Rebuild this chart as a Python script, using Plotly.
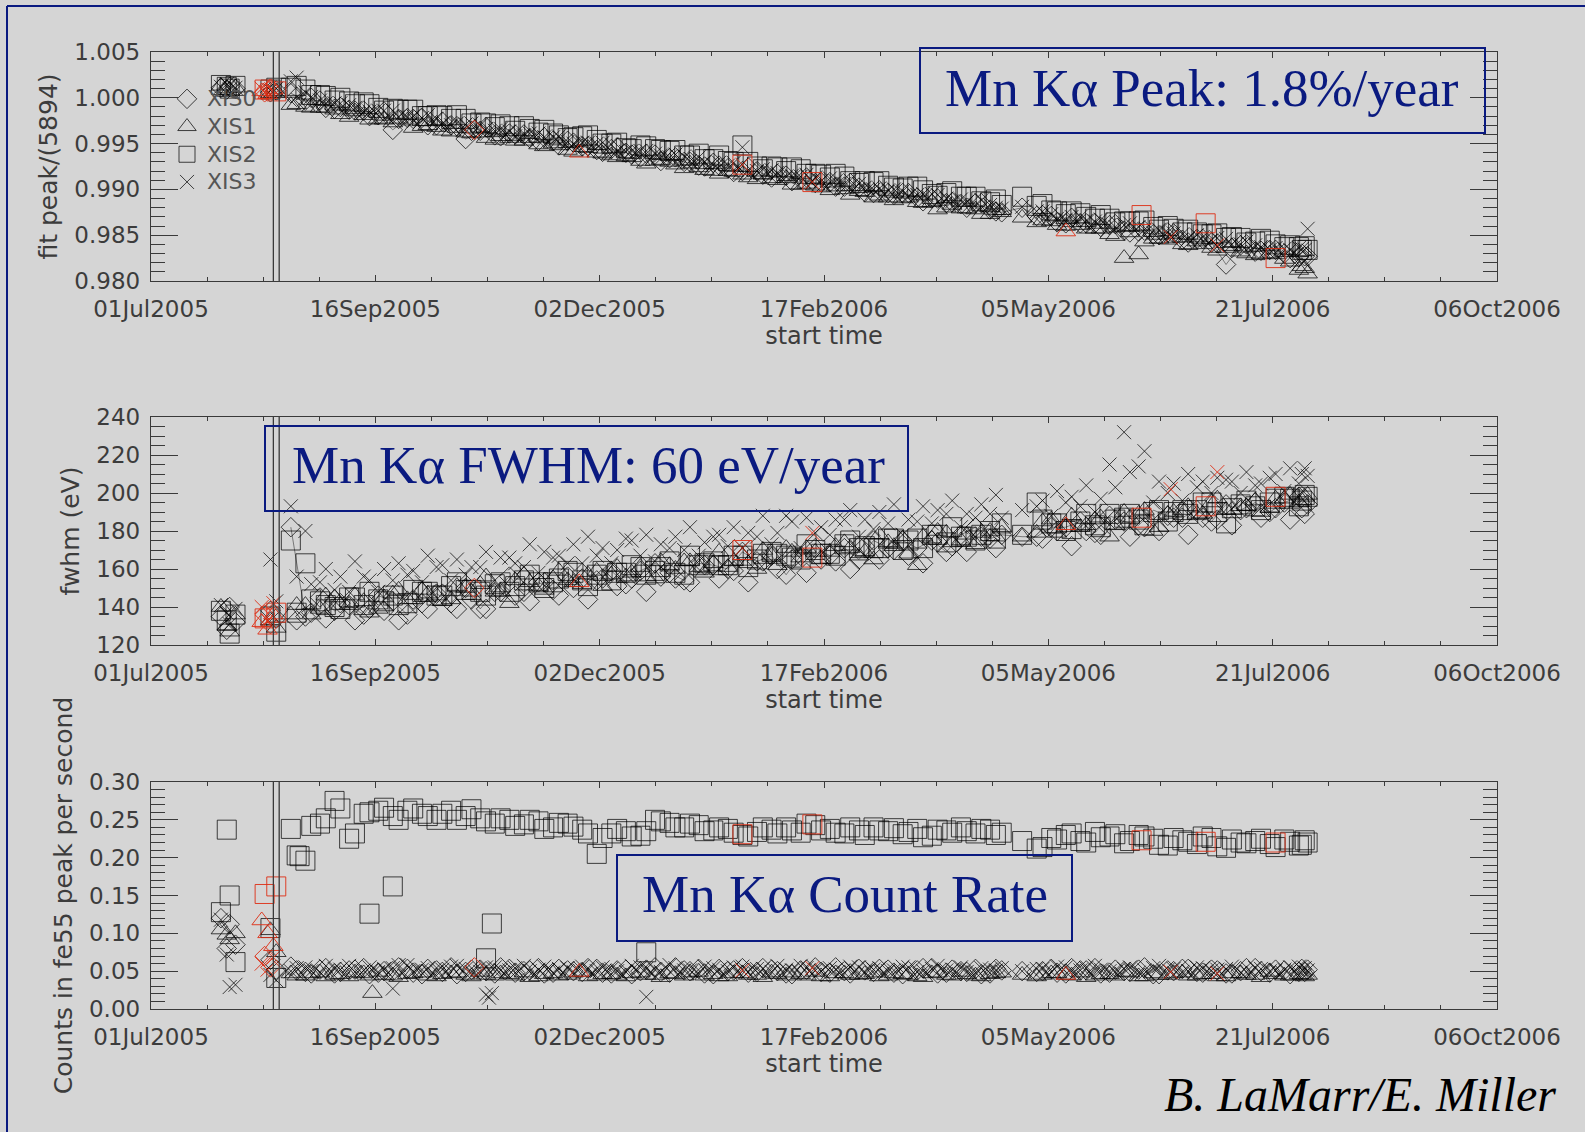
import plotly.graph_objects as go

# ---------------- data ----------------
# observation dates, set A
dates = [
    "2005-08-18", "2005-08-23", "2005-08-28", "2005-09-02", "2005-09-07", "2005-09-12", "2005-09-17", "2005-09-22", "2005-09-27", "2005-10-02",
    "2005-10-07", "2005-10-12", "2005-10-17", "2005-10-22", "2005-10-27", "2005-11-01", "2005-11-06", "2005-11-11", "2005-11-16", "2005-11-21",
    "2005-11-26", "2005-12-01", "2005-12-06", "2005-12-11", "2005-12-16", "2005-12-21", "2005-12-26", "2005-12-31", "2006-01-05", "2006-01-10",
    "2006-01-15", "2006-01-20", "2006-01-25", "2006-01-30", "2006-02-04", "2006-02-09", "2006-02-14", "2006-02-19", "2006-02-24", "2006-03-01",
    "2006-03-06", "2006-03-11", "2006-03-16", "2006-03-21", "2006-03-26", "2006-03-31", "2006-04-05", "2006-04-10", "2006-04-15", "2006-04-19",
    "2006-04-26", "2006-05-01", "2006-05-06", "2006-05-11", "2006-05-16", "2006-05-21", "2006-05-26", "2006-05-31", "2006-06-05", "2006-06-10",
    "2006-06-15", "2006-06-20", "2006-06-25", "2006-06-30", "2006-07-05", "2006-07-10", "2006-07-15", "2006-07-20", "2006-07-25", "2006-07-30",
    "2006-08-02",
]
# observation dates, set B (interleaved)
dates_b = [
    "2005-08-20", "2005-08-25", "2005-08-30", "2005-09-04", "2005-09-09", "2005-09-14", "2005-09-19", "2005-09-24", "2005-09-29", "2005-10-04",
    "2005-10-09", "2005-10-14", "2005-10-19", "2005-10-24", "2005-10-29", "2005-11-03", "2005-11-08", "2005-11-13", "2005-11-18", "2005-11-23",
    "2005-11-28", "2005-12-03", "2005-12-08", "2005-12-13", "2005-12-18", "2005-12-23", "2005-12-28", "2006-01-02", "2006-01-07", "2006-01-12",
    "2006-01-17", "2006-01-22", "2006-01-27", "2006-02-01", "2006-02-06", "2006-02-11", "2006-02-16", "2006-02-21", "2006-02-26", "2006-03-03",
    "2006-03-08", "2006-03-13", "2006-03-18", "2006-03-23", "2006-03-28", "2006-04-02", "2006-04-07", "2006-04-12", "2006-04-17", "2006-05-03",
    "2006-05-08", "2006-05-13", "2006-05-18", "2006-05-23", "2006-05-28", "2006-06-02", "2006-06-07", "2006-06-12", "2006-06-17", "2006-06-22",
    "2006-06-27", "2006-07-02", "2006-07-07", "2006-07-12", "2006-07-17", "2006-07-22", "2006-07-27", "2006-07-31", "2006-08-01",
]

# --- panel 1: fit peak / 5894 ---
peak_xis0 = [
    1.0005, 0.9997, 0.9997, 0.9988, 0.9987, 0.9986, 0.9981, 0.9965, 0.9978, 0.9978,
    0.9970, 0.9970, 0.9955, 0.9964, 0.9959, 0.9961, 0.9960, 0.9953, 0.9953, 0.9953,
    0.9947, 0.9943, 0.9944, 0.9940, 0.9935, 0.9938, 0.9934, 0.9930, 0.9926, 0.9929,
    0.9923, 0.9920, 0.9920, 0.9913, 0.9915, 0.9911, 0.9907, 0.9908, 0.9903, 0.9902,
    0.9896, 0.9896, 0.9896, 0.9891, 0.9890, 0.9885, 0.9884, 0.9885, 0.9878, 0.9875,
    0.9880, 0.9871, 0.9871, 0.9863, 0.9863, 0.9863, 0.9861, 0.9855, 0.9854, 0.9851,
    0.9853, 0.9845, 0.9846, 0.9842, 0.9818, 0.9839, 0.9832, 0.9834, 0.9830, 0.9826,
    0.9827,
]
peak_xis0_b = [
    1.0001, 1.0000, 0.9989, 0.9990, 0.9986, 0.9980, 0.9985, 0.9977, 0.9977, 0.9970,
    0.9974, 0.9969, 0.9964, 0.9968, 0.9958, 0.9960, 0.9956, 0.9957, 0.9948, 0.9951,
    0.9947, 0.9941, 0.9946, 0.9938, 0.9939, 0.9931, 0.9935, 0.9930, 0.9925, 0.9926,
    0.9919, 0.9924, 0.9916, 0.9917, 0.9909, 0.9913, 0.9908, 0.9903, 0.9907, 0.9897,
    0.9899, 0.9894, 0.9896, 0.9887, 0.9890, 0.9886, 0.9880, 0.9885, 0.9876, 0.9872,
    0.9864, 0.9869, 0.9863, 0.9859, 0.9862, 0.9853, 0.9855, 0.9850, 0.9852, 0.9842,
    0.9846, 0.9841, 0.9836, 0.9840, 0.9833, 0.9834, 0.9825, 0.9830, 0.9827,
]
peak_xis1 = [
    0.9992, 0.9990, 0.9989, 0.9987, 0.9979, 0.9981, 0.9977, 0.9973, 0.9975, 0.9969,
    0.9968, 0.9963, 0.9962, 0.9962, 0.9954, 0.9956, 0.9953, 0.9949, 0.9950, 0.9943,
    0.9946, 0.9940, 0.9937, 0.9936, 0.9931, 0.9931, 0.9930, 0.9923, 0.9924, 0.9920,
    0.9920, 0.9916, 0.9911, 0.9912, 0.9912, 0.9905, 0.9904, 0.9899, 0.9900, 0.9898,
    0.9891, 0.9891, 0.9890, 0.9886, 0.9886, 0.9880, 0.9879, 0.9878, 0.9873, 0.9875,
    0.9869, 0.9864, 0.9865, 0.9860, 0.9861, 0.9857, 0.9851, 0.9825, 0.9829, 0.9846,
    0.9845, 0.9840, 0.9843, 0.9836, 0.9836, 0.9832, 0.9828, 0.9830, 0.9824, 0.9812,
    0.9808,
]
peak_xis1_b = [
    0.9993, 0.9989, 0.9989, 0.9982, 0.9985, 0.9976, 0.9976, 0.9977, 0.9967, 0.9970,
    0.9964, 0.9967, 0.9961, 0.9956, 0.9958, 0.9953, 0.9956, 0.9947, 0.9948, 0.9941,
    0.9945, 0.9939, 0.9935, 0.9935, 0.9928, 0.9932, 0.9927, 0.9928, 0.9921, 0.9917,
    0.9919, 0.9913, 0.9916, 0.9910, 0.9905, 0.9906, 0.9902, 0.9903, 0.9894, 0.9897,
    0.9893, 0.9888, 0.9891, 0.9885, 0.9878, 0.9883, 0.9879, 0.9873, 0.9877, 0.9866,
    0.9861, 0.9864, 0.9857, 0.9857, 0.9849, 0.9853, 0.9843, 0.9846, 0.9847, 0.9839,
    0.9840, 0.9833, 0.9838, 0.9830, 0.9829, 0.9829, 0.9821, 0.9816, 0.9814,
]
peak_xis2 = [
    1.0011, 1.0009, 1.0003, 0.9997, 0.9996, 0.9995, 0.9989, 0.9988, 0.9987, 0.9980,
    0.9981, 0.9977, 0.9977, 0.9973, 0.9968, 0.9969, 0.9969, 0.9962, 0.9961, 0.9956,
    0.9958, 0.9954, 0.9950, 0.9945, 0.9948, 0.9944, 0.9942, 0.9937, 0.9939, 0.9933,
    0.9931, 0.9948, 0.9925, 0.9925, 0.9920, 0.9922, 0.9917, 0.9913, 0.9914, 0.9907,
    0.9908, 0.9904, 0.9901, 0.9903, 0.9895, 0.9896, 0.9892, 0.9892, 0.9886, 0.9883,
    0.9892, 0.9882, 0.9877, 0.9873, 0.9874, 0.9868, 0.9868, 0.9865, 0.9865, 0.9859,
    0.9860, 0.9853, 0.9853, 0.9851, 0.9847, 0.9847, 0.9843, 0.9844, 0.9837, 0.9837,
    0.9834,
]
peak_xis2_b = [
    1.0013, 1.0003, 1.0002, 1.0000, 0.9993, 0.9993, 0.9986, 0.9987, 0.9987, 0.9980,
    0.9980, 0.9981, 0.9972, 0.9972, 0.9971, 0.9964, 0.9966, 0.9965, 0.9959, 0.9957,
    0.9959, 0.9950, 0.9951, 0.9944, 0.9947, 0.9943, 0.9943, 0.9937, 0.9933, 0.9937,
    0.9930, 0.9930, 0.9922, 0.9924, 0.9924, 0.9917, 0.9916, 0.9917, 0.9909, 0.9909,
    0.9909, 0.9902, 0.9903, 0.9899, 0.9893, 0.9898, 0.9892, 0.9887, 0.9889, 0.9884,
    0.9876, 0.9876, 0.9870, 0.9872, 0.9864, 0.9865, 0.9866, 0.9856, 0.9857, 0.9856,
    0.9851, 0.9852, 0.9848, 0.9842, 0.9846, 0.9840, 0.9839, 0.9834, 0.9838,
]
peak_xis3 = [
    1.0018, 1.0006, 0.9997, 0.9994, 0.9992, 0.9985, 0.9986, 0.9986, 0.9979, 0.9978,
    0.9977, 0.9970, 0.9971, 0.9970, 0.9964, 0.9963, 0.9959, 0.9961, 0.9957, 0.9952,
    0.9951, 0.9950, 0.9949, 0.9941, 0.9942, 0.9939, 0.9935, 0.9936, 0.9935, 0.9927,
    0.9926, 0.9946, 0.9920, 0.9921, 0.9914, 0.9914, 0.9913, 0.9912, 0.9906, 0.9906,
    0.9900, 0.9899, 0.9898, 0.9894, 0.9895, 0.9890, 0.9889, 0.9883, 0.9883, 0.9879,
    0.9881, 0.9876, 0.9873, 0.9867, 0.9870, 0.9865, 0.9861, 0.9861, 0.9859, 0.9852,
    0.9853, 0.9851, 0.9850, 0.9844, 0.9846, 0.9840, 0.9839, 0.9834, 0.9835, 0.9836,
    0.9857,
]
peak_xis3_b = [
    1.0022, 1.0001, 0.9994, 0.9994, 0.9989, 0.9985, 0.9986, 0.9979, 0.9980, 0.9981,
    0.9972, 0.9972, 0.9972, 0.9966, 0.9966, 0.9958, 0.9961, 0.9957, 0.9958, 0.9950,
    0.9951, 0.9951, 0.9942, 0.9942, 0.9942, 0.9937, 0.9938, 0.9931, 0.9930, 0.9929,
    0.9929, 0.9920, 0.9922, 0.9918, 0.9915, 0.9916, 0.9909, 0.9909, 0.9910, 0.9902,
    0.9901, 0.9900, 0.9893, 0.9895, 0.9894, 0.9887, 0.9886, 0.9888, 0.9880, 0.9876,
    0.9868, 0.9870, 0.9866, 0.9867, 0.9859, 0.9863, 0.9856, 0.9856, 0.9852, 0.9846,
    0.9848, 0.9847, 0.9840, 0.9843, 0.9837, 0.9836, 0.9834, 0.9835, 0.9834,
]

# --- panel 2: FWHM (eV) ---
fwhm_xis0 = [
    182, 135, 145, 138, 141, 136, 146, 143, 136, 142,
    147, 142, 150, 139, 148, 156, 148, 153, 149, 156,
    155, 154, 159, 152, 159, 163, 158, 154, 163, 162,
    160, 169, 164, 167, 157, 167, 171, 167, 171, 165,
    175, 171, 175, 171, 175, 169, 178, 182, 176, 178,
    177, 177, 182, 182, 185, 179, 188, 185, 183, 191,
    188, 187, 191, 185, 194, 191, 195, 190, 195, 198,
    194,
]
fwhm_xis0_b = [
    133, 137, 134, 142, 133, 139, 138, 133, 144, 139,
    147, 139, 144, 139, 148, 146, 143, 153, 146, 150,
    144, 155, 151, 155, 148, 156, 155, 153, 162, 155,
    159, 153, 164, 160, 165, 158, 165, 164, 160, 172,
    165, 170, 167, 163, 174, 172, 169, 177, 171, 176,
    180, 172, 180, 178, 186, 177, 182, 180, 187, 178,
    187, 186, 183, 192, 187, 192, 186, 192, 189,
]
fwhm_xis1 = [
    136, 141, 139, 145, 141, 143, 139, 147, 144, 149,
    146, 144, 150, 152, 148, 142, 157, 151, 155, 154,
    152, 159, 157, 156, 161, 155, 162, 164, 161, 163,
    161, 167, 160, 167, 171, 166, 169, 169, 174, 167,
    165, 174, 176, 162, 176, 179, 175, 173, 180, 182,
    177, 179, 186, 182, 182, 186, 177, 190, 189, 180,
    189, 191, 189, 195, 191, 193, 196, 192, 197, 195,
    199,
]
fwhm_xis1_b = [
    141, 136, 146, 141, 146, 137, 145, 149, 144, 147,
    143, 151, 148, 156, 148, 154, 153, 149, 159, 153,
    157, 151, 161, 158, 156, 164, 160, 164, 158, 169,
    164, 163, 170, 162, 169, 171, 165, 172, 171, 169,
    178, 172, 168, 177, 180, 174, 178, 179, 177, 185,
    179, 188, 183, 187, 183, 187, 191, 182, 190, 193,
    189, 197, 191, 193, 190, 197, 199, 196, 198,
]
fwhm_xis2 = [
    175, 163, 143, 140, 145, 141, 144, 146, 142, 148,
    146, 151, 149, 148, 152, 148, 154, 153, 153, 159,
    154, 157, 154, 158, 161, 159, 164, 157, 162, 164,
    162, 167, 165, 169, 167, 165, 170, 168, 173, 171,
    171, 176, 170, 176, 178, 174, 177, 175, 180, 184,
    178, 195, 184, 180, 185, 183, 189, 187, 186, 190,
    185, 191, 191, 195, 184, 194, 193, 195, 198, 193,
    198,
]
fwhm_xis2_b = [
    137, 144, 141, 139, 145, 148, 143, 141, 149, 148,
    146, 153, 149, 146, 153, 151, 157, 150, 155, 158,
    151, 159, 158, 162, 157, 161, 158, 167, 163, 162,
    167, 161, 168, 168, 166, 173, 168, 167, 175, 172,
    171, 176, 175, 171, 178, 182, 177, 178, 176, 186,
    184, 181, 189, 182, 186, 189, 183, 191, 190, 189,
    195, 190, 192, 196, 191, 197, 197, 196, 199,
]
fwhm_xis3 = [
    193, 180, 153, 149, 148, 156, 148, 154, 157, 153,
    161, 154, 157, 161, 154, 166, 161, 158, 166, 163,
    163, 167, 163, 176, 167, 164, 171, 170, 167, 177,
    172, 171, 177, 173, 188, 171, 179, 178, 186, 177,
    181, 184, 178, 185, 184, 189, 182, 187, 189, 187,
    191, 193, 188, 195, 193, 190, 215, 232, 214, 195,
    200, 196, 203, 200, 207, 200, 204, 208, 201, 205,
    209,
]
fwhm_xis3_b = [
    156, 152, 160, 156, 164, 154, 160, 163, 159, 167,
    162, 165, 161, 169, 166, 163, 173, 169, 167, 173,
    177, 171, 170, 175, 178, 173, 177, 182, 174, 178,
    182, 179, 188, 179, 185, 187, 182, 186, 191, 186,
    190, 194, 186, 193, 191, 196, 189, 194, 199, 196,
    201, 198, 204, 197, 203, 211, 222, 206, 205, 210,
    206, 208, 206, 211, 205, 210, 213, 210, 213,
]

# --- panel 3: counts in fe55 peak per second ---
rate_xis0 = [
    0.056, 0.049, 0.052, 0.047, 0.051, 0.054, 0.048, 0.050, 0.053, 0.046,
    0.051, 0.055, 0.049, 0.052, 0.047, 0.053, 0.050, 0.054, 0.048, 0.051,
    0.049, 0.053, 0.047, 0.052, 0.050, 0.055, 0.048, 0.051, 0.053, 0.046,
    0.050, 0.054, 0.049, 0.052, 0.047, 0.051, 0.055, 0.048, 0.050, 0.053,
    0.049, 0.052, 0.046, 0.051, 0.054, 0.048, 0.050, 0.053, 0.047, 0.051,
    0.050, 0.049, 0.053, 0.047, 0.051, 0.054, 0.048, 0.050, 0.052, 0.046,
    0.051, 0.053, 0.049, 0.052, 0.047, 0.050, 0.054, 0.048, 0.051, 0.049,
    0.052,
]
rate_xis0_b = [
    0.051, 0.047, 0.054, 0.049, 0.052, 0.046, 0.050, 0.055, 0.048, 0.053,
    0.049, 0.046, 0.052, 0.050, 0.055, 0.048, 0.051, 0.047, 0.053, 0.050,
    0.054, 0.048, 0.051, 0.046, 0.052, 0.049, 0.055, 0.050, 0.047, 0.053,
    0.051, 0.048, 0.054, 0.050, 0.046, 0.052, 0.049, 0.055, 0.047, 0.051,
    0.053, 0.048, 0.050, 0.054, 0.047, 0.052, 0.049, 0.046, 0.053, 0.050,
    0.048, 0.054, 0.051, 0.047, 0.052, 0.049, 0.055, 0.046, 0.050, 0.053,
    0.048, 0.051, 0.047, 0.054, 0.050, 0.052, 0.046, 0.053, 0.049,
]
rate_xis1 = [
    0.047, 0.044, 0.048, 0.045, 0.043, 0.047, 0.049, 0.044, 0.046, 0.048,
    0.043, 0.047, 0.045, 0.049, 0.044, 0.046, 0.048, 0.043, 0.047, 0.045,
    0.049, 0.044, 0.046, 0.043, 0.048, 0.045, 0.047, 0.044, 0.049, 0.046,
    0.043, 0.047, 0.045, 0.048, 0.044, 0.046, 0.049, 0.043, 0.047, 0.045,
    0.048, 0.044, 0.046, 0.043, 0.047, 0.045, 0.049, 0.044, 0.046, 0.048,
    0.045, 0.043, 0.047, 0.045, 0.048, 0.044, 0.046, 0.049, 0.043, 0.047,
    0.045, 0.048, 0.044, 0.046, 0.043, 0.047, 0.045, 0.049, 0.044, 0.046,
    0.045,
]
rate_xis1_b = [
    0.044, 0.047, 0.043, 0.046, 0.048, 0.044, 0.045, 0.042, 0.047, 0.044,
    0.046, 0.048, 0.043, 0.045, 0.047, 0.044, 0.042, 0.046, 0.044, 0.048,
    0.043, 0.046, 0.044, 0.047, 0.045, 0.042, 0.046, 0.048, 0.044, 0.043,
    0.047, 0.045, 0.042, 0.046, 0.048, 0.044, 0.043, 0.047, 0.045, 0.046,
    0.043, 0.047, 0.045, 0.042, 0.048, 0.044, 0.046, 0.043, 0.047, 0.045,
    0.047, 0.044, 0.042, 0.046, 0.044, 0.048, 0.043, 0.045, 0.047, 0.044,
    0.046, 0.043, 0.047, 0.045, 0.042, 0.046, 0.044, 0.045, 0.043,
]
rate_xis2 = [
    0.238, 0.196, 0.245, 0.275, 0.225, 0.258, 0.262, 0.255, 0.262, 0.258,
    0.250, 0.262, 0.255, 0.252, 0.245, 0.250, 0.244, 0.248, 0.240, 0.245,
    0.237, 0.205, 0.232, 0.235, 0.229, 0.250, 0.246, 0.240, 0.243, 0.236,
    0.238, 0.230, 0.234, 0.237, 0.240, 0.233, 0.243, 0.238, 0.232, 0.236,
    0.240, 0.235, 0.231, 0.238, 0.229, 0.236, 0.240, 0.232, 0.237, 0.233,
    0.222, 0.212, 0.226, 0.230, 0.222, 0.234, 0.228, 0.219, 0.230, 0.225,
    0.216, 0.223, 0.218, 0.226, 0.213, 0.220, 0.222, 0.218, 0.224, 0.216,
    0.220,
]
rate_xis2_b = [
    0.203, 0.242, 0.252, 0.265, 0.232, 0.260, 0.266, 0.250, 0.265, 0.255,
    0.258, 0.250, 0.264, 0.248, 0.252, 0.242, 0.250, 0.238, 0.246, 0.241,
    0.232, 0.226, 0.238, 0.228, 0.235, 0.248, 0.240, 0.245, 0.235, 0.240,
    0.233, 0.228, 0.240, 0.232, 0.236, 0.245, 0.236, 0.233, 0.240, 0.230,
    0.236, 0.239, 0.234, 0.227, 0.237, 0.233, 0.235, 0.238, 0.230, 0.214,
    0.224, 0.232, 0.220, 0.227, 0.231, 0.222, 0.228, 0.217, 0.226, 0.221,
    0.228, 0.215, 0.224, 0.219, 0.225, 0.214, 0.221, 0.217, 0.223,
]
rate_xis3 = [
    0.050, 0.055, 0.048, 0.053, 0.057, 0.051, 0.049, 0.054, 0.058, 0.052,
    0.050, 0.056, 0.053, 0.049, 0.055, 0.051, 0.057, 0.052, 0.048, 0.054,
    0.056, 0.050, 0.053, 0.049, 0.055, 0.052, 0.058, 0.051, 0.047, 0.054,
    0.050, 0.056, 0.053, 0.049, 0.052, 0.057, 0.051, 0.054, 0.048, 0.055,
    0.052, 0.050, 0.056, 0.049, 0.053, 0.051, 0.055, 0.048, 0.052, 0.054,
    0.050, 0.053, 0.049, 0.055, 0.051, 0.057, 0.050, 0.053, 0.048, 0.054,
    0.052, 0.049, 0.055, 0.051, 0.053, 0.048, 0.054, 0.050, 0.052, 0.056,
    0.051,
]
rate_xis3_b = [
    0.054, 0.050, 0.057, 0.052, 0.049, 0.055, 0.053, 0.058, 0.050, 0.054,
    0.052, 0.057, 0.049, 0.055, 0.051, 0.054, 0.050, 0.056, 0.053, 0.049,
    0.052, 0.055, 0.050, 0.057, 0.053, 0.049, 0.054, 0.051, 0.056, 0.052,
    0.055, 0.049, 0.053, 0.057, 0.051, 0.054, 0.050, 0.052, 0.056, 0.049,
    0.054, 0.051, 0.055, 0.050, 0.057, 0.052, 0.049, 0.054, 0.051, 0.053,
    0.056, 0.050, 0.054, 0.052, 0.049, 0.055, 0.051, 0.057, 0.053, 0.050,
    0.054, 0.052, 0.056, 0.049, 0.053, 0.051, 0.055, 0.052, 0.054,
]

# early calibration runs (before the main sequence)
early_dates = ["2005-07-25", "2005-07-27", "2005-07-28", "2005-07-30", "2005-08-11", "2005-08-13"]
early_peak = {"XIS0": [1.0011, 1.0009, 1.0012, 1.0010, 1.0006, 1.0008],
              "XIS1": [1.0013, 1.0010, 1.0008, 1.0011, 1.0005, 1.0007],
              "XIS2": [1.0014, 1.0012, 1.0010, 1.0013, 1.0009, 1.0011],
              "XIS3": [1.0012, 1.0015, 1.0009, 1.0011, 1.0008, 1.0010]}
early_fwhm = {"XIS0": [135, 128, 140, 132, 138, 134],
              "XIS1": [140, 130, 127, 136, 133, 129],
              "XIS2": [138, 133, 126, 136, 135, 127],
              "XIS3": [141, 137, 131, 139, 165, 143]}
early_rate = {"XIS0": [0.120, 0.080, 0.112, 0.085, 0.065, 0.052],
              "XIS1": [0.105, 0.098, 0.092, 0.100, 0.104, 0.075],
              "XIS2": [0.128, 0.237, 0.150, 0.062, 0.107, 0.041],
              "XIS3": [0.118, 0.072, 0.029, 0.032, 0.045, 0.038]}

# points drawn in red
red_dates = {"XIS0": ["2005-08-09", "2005-08-11", "2005-10-20"],
             "XIS1": ["2005-08-08", "2005-08-10", "2005-08-12", "2005-11-25", "2006-05-11"],
             "XIS2": ["2005-08-09", "2005-08-13", "2006-01-20", "2006-02-13", "2006-06-06", "2006-06-28", "2006-07-22"],
             "XIS3": ["2005-08-08", "2005-08-10", "2005-08-12", "2006-01-20", "2006-02-13", "2006-06-16", "2006-07-02"]}
red_peak = {"XIS0": [1.0006, 1.0010, 0.9965],
            "XIS1": [1.0007, 1.0004, 1.0009, 0.9940, 0.9854],
            "XIS2": [1.0009, 1.0007, 0.9927, 0.9908, 0.9872, 0.9863, 0.9825],
            "XIS3": [1.0010, 1.0006, 1.0008, 0.9927, 0.9908, 0.9848, 0.9839]}
red_fwhm = {"XIS0": [136, 131, 150],
            "XIS1": [132, 128, 136, 153, 183],
            "XIS2": [134, 137, 170, 166, 187, 193, 198],
            "XIS3": [140, 133, 142, 171, 179, 202, 211]}
red_rate = {"XIS0": [0.070, 0.055, 0.055],
            "XIS1": [0.117, 0.100, 0.083, 0.049, 0.045],
            "XIS2": [0.152, 0.162, 0.231, 0.244, 0.223, 0.221, 0.220],
            "XIS3": [0.060, 0.052, 0.068, 0.051, 0.054, 0.049, 0.047]}

# isolated outliers in the count-rate panel
rate_extra_dates = {"XIS1": ["2005-09-15"],
                    "XIS2": ["2005-08-21", "2005-09-14", "2005-09-22", "2005-10-24", "2005-10-26", "2005-12-18"],
                    "XIS3": ["2005-09-22", "2005-10-24", "2005-10-25", "2005-10-26", "2005-12-18"]}
rate_extra = {"XIS1": [0.021],
              "XIS2": [0.202, 0.126, 0.162, 0.067, 0.113, 0.075],
              "XIS3": [0.027, 0.019, 0.015, 0.021, 0.016]}

event_dates = ["2005-08-12", "2005-08-14"]
tick_dates = ["2005-07-01", "2005-09-16", "2005-12-02", "2006-02-17", "2006-05-05", "2006-07-21", "2006-10-06"]
sensors = ["XIS0", "XIS1", "XIS2", "XIS3"]

main_peak = {"XIS0": (peak_xis0, peak_xis0_b), "XIS1": (peak_xis1, peak_xis1_b),
             "XIS2": (peak_xis2, peak_xis2_b), "XIS3": (peak_xis3, peak_xis3_b)}
main_fwhm = {"XIS0": (fwhm_xis0, fwhm_xis0_b), "XIS1": (fwhm_xis1, fwhm_xis1_b),
             "XIS2": (fwhm_xis2, fwhm_xis2_b), "XIS3": (fwhm_xis3, fwhm_xis3_b)}
main_rate = {"XIS0": (rate_xis0, rate_xis0_b), "XIS1": (rate_xis1, rate_xis1_b),
             "XIS2": (rate_xis2, rate_xis2_b), "XIS3": (rate_xis3, rate_xis3_b)}
for d in (main_peak, main_fwhm, main_rate):
    for k, (va, vb) in d.items():
        assert len(va) == len(dates), (k, "A", len(va))
        assert len(vb) == len(dates_b), (k, "B", len(vb))

# ---------------- styling ----------------
W, H = 1585, 1132
PL, PR, PT, PB = 151, 1497, 52, 1009
PW, PH = PR - PL, PB - PT


def pxp(x):
    return (x - PL) / PW


def pyp(y):
    return (PB - y) / PH


BG = "#d5d5d5"
AX = "#3a3a3a"
TXT = "#3c3c3c"
NAVY = "#0a1a80"
BLACK = "rgba(0,0,0,0.72)"
RED = "rgba(222,45,20,0.9)"
SYM = {"XIS0": ("diamond-open", 15), "XIS1": ("triangle-up-open", 17),
       "XIS2": ("square-open", 19), "XIS3": ("x-thin", 14)}

fig = go.Figure()


def mk(sensor, color):
    sym, size = SYM[sensor]
    return dict(symbol=sym, size=size, color=color, line=dict(color=color, width=1))


panels = [
    ("x", "y", main_peak, early_peak, red_peak, {}, {}),
    ("x2", "y2", main_fwhm, early_fwhm, red_fwhm, {}, {}),
    ("x3", "y3", main_rate, early_rate, red_rate, rate_extra_dates, rate_extra),
]
for pi, (xa, ya, main, early, red, exd, exv) in enumerate(panels):
    if pi < 2:
        # thin connecting line through the XIS0 sequence
        fig.add_trace(go.Scatter(x=dates, y=main["XIS0"][0], mode="lines", showlegend=False,
                                 line=dict(color="rgba(0,0,0,0.55)", width=0.8),
                                 xaxis=xa, yaxis=ya, hoverinfo="skip"))
    for s in sensors:
        va, vb = main[s]
        xs = early_dates + dates + dates_b + exd.get(s, [])
        ys = early[s] + va + vb + exv.get(s, [])
        fig.add_trace(go.Scatter(x=xs, y=ys, mode="markers",
                                 name="<span style='font-size:22px'>%s</span>" % s, legendgroup=s,
                                 showlegend=(pi == 0), marker=mk(s, BLACK),
                                 xaxis=xa, yaxis=ya, hoverinfo="skip"))
    for s in sensors:
        fig.add_trace(go.Scatter(x=red_dates[s], y=red[s], mode="markers", showlegend=False,
                                 marker=mk(s, RED), xaxis=xa, yaxis=ya, hoverinfo="skip"))

tickfont = dict(family="DejaVu Sans", size=23, color=TXT)
DAY = 86400000

xcommon = dict(type="date", range=[tick_dates[0], tick_dates[-1]], tick0=tick_dates[0], dtick=77 * DAY,
               tickformat="%d%b%Y", ticks="inside", ticklen=6, tickwidth=1.2, tickcolor=AX,
               showline=True, linecolor=AX, linewidth=1.4, mirror="ticks", showgrid=False, zeroline=False,
               tickfont=tickfont, ticklabelstandoff=7,
               minor=dict(tick0=tick_dates[0], dtick=19.25 * DAY, ticks="inside", ticklen=4, tickcolor=AX,
                          showgrid=False),
               title=dict(text="start time", font=dict(tickfont, size=24), standoff=5))


def ycommon(rng, dt, mdt, fmt, title):
    return dict(range=rng, dtick=dt, tick0=rng[0], tickformat=fmt, ticks="inside", ticklen=27, tickwidth=1.2,
                tickcolor=AX, showline=True, linecolor=AX, linewidth=1.4, mirror="ticks", showgrid=False,
                zeroline=False, tickfont=tickfont, ticklabelstandoff=5,
                minor=dict(dtick=mdt, tick0=rng[0], ticks="inside", ticklen=14, tickcolor=AX, showgrid=False),
                title=dict(text=title, font=dict(tickfont, size=25), standoff=9))


d1 = [pyp(281), pyp(52)]
d2 = [pyp(645), pyp(417)]
d3 = [pyp(1009), pyp(782)]

layout = dict(
    width=W, height=H, paper_bgcolor=BG, plot_bgcolor=BG,
    margin=dict(l=PL, r=W - PR, t=PT, b=H - PB, autoexpand=False),
    xaxis=dict(xcommon, anchor="y"), xaxis2=dict(xcommon, anchor="y2"), xaxis3=dict(xcommon, anchor="y3"),
    yaxis=dict(ycommon([0.980, 1.005], 0.005, 0.001, ".3f", "fit peak/(5894)"), domain=d1, anchor="x"),
    yaxis2=dict(ycommon([120, 240], 20, 5, "d", "fwhm (eV)"), domain=d2, anchor="x2"),
    yaxis3=dict(ycommon([0.0, 0.30], 0.05, 0.01, ".2f", "Counts in fe55 peak per second"), domain=d3, anchor="x3"),
    showlegend=True,
    legend=dict(x=pxp(167), y=pyp(80), xanchor="left", yanchor="top", bgcolor="rgba(0,0,0,0)",
                font=dict(family="DejaVu Sans", size=19, color="#555555"), tracegroupgap=0,
                itemwidth=30),
)
fig.update_layout(**layout)

shapes = []
for xa, yref in (("x", "y"), ("x2", "y2"), ("x3", "y3")):
    for ed in event_dates:
        shapes.append(dict(type="line", xref=xa, yref=yref + " domain", x0=ed, x1=ed, y0=0, y1=1,
                           line=dict(color=AX, width=1.3)))
boxes = [(920, 48, 1485, 133), (265, 426, 908, 511), (617, 855, 1072, 941)]
for (x0, y0, x1, y1) in boxes:
    shapes.append(dict(type="rect", xref="paper", yref="paper", x0=pxp(x0), x1=pxp(x1), y0=pyp(y1), y1=pyp(y0),
                       line=dict(color=NAVY, width=2), fillcolor="rgba(0,0,0,0)"))
# slide frame (left and top edges)
shapes.append(dict(type="line", xref="paper", yref="paper", x0=pxp(7), x1=pxp(7), y0=pyp(6), y1=pyp(H),
                   line=dict(color=NAVY, width=2)))
shapes.append(dict(type="line", xref="paper", yref="paper", x0=pxp(7), x1=pxp(W), y0=pyp(6), y1=pyp(6),
                   line=dict(color=NAVY, width=2)))
fig.update_layout(shapes=shapes)

serif = dict(family="Liberation Serif", size=53, color=NAVY)
ann = [
    ("Mn K\u03b1 Peak: 1.8%/year", 1202, 88),
    ("Mn K\u03b1 FWHM: 60 eV/year", 588, 465),
    ("Mn K\u03b1 Count Rate", 845, 894),
]
annotations = []
for t, x, y in ann:
    annotations.append(dict(text=t, xref="paper", yref="paper", x=pxp(x), y=pyp(y), xanchor="center",
                            yanchor="middle", showarrow=False, font=serif))
annotations.append(dict(text="B. LaMarr/E. Miller", xref="paper", yref="paper", x=pxp(1558), y=pyp(1094),
                        xanchor="right", yanchor="middle", showarrow=False,
                        font=dict(family="Liberation Serif", size=48, color="black", style="italic")))
fig.update_layout(annotations=annotations)

fig.write_html("out.html")
